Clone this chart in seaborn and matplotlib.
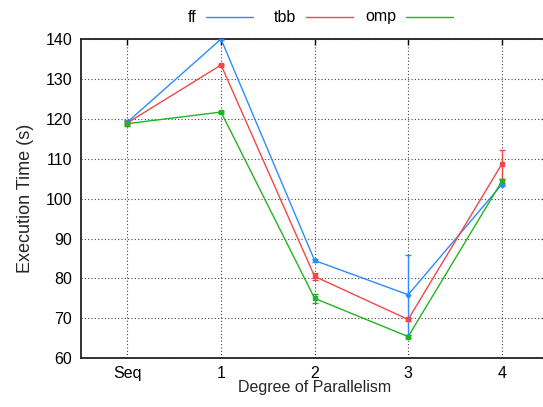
import matplotlib
matplotlib.use("Agg")
import matplotlib.pyplot as plt
from matplotlib.lines import Line2D
import seaborn as sns
import pandas as pd

# Execution time per degree of parallelism
categories = ["Seq", "1", "2", "3", "4"]
ff_time = [119.2, 140.0, 84.5, 75.9, 103.5]
ff_err = [0.4, 0.3, 0.3, 10.0, 0.3]
tbb_time = [119.0, 133.5, 80.5, 69.7, 108.6]
tbb_err = [0.4, 0.3, 0.9, 0.3, 3.6]
omp_time = [118.8, 121.7, 75.0, 65.4, 104.3]
omp_err = [0.6, 0.3, 1.2, 0.3, 0.7]
impls = ["ff", "tbb", "omp"]

series = {"ff": (ff_time, ff_err), "tbb": (tbb_time, tbb_err), "omp": (omp_time, omp_err)}
colors = {"ff": "#2b8cff", "tbb": "#f04848", "omp": "#22b422"}
markers = {"ff": "P", "tbb": "s", "omp": "s"}

rows = []
for name, (vals, errs) in series.items():
    for i, (v, e) in enumerate(zip(vals, errs)):
        rows.append({"pos": i, "cat": categories[i], "time": v, "err": e, "impl": name})
df = pd.DataFrame(rows)

sns.set_theme(style="white")
plt.rcParams["font.family"] = ["Liberation Sans", "DejaVu Sans"]

W, H = 543, 407
fig = plt.figure(figsize=(W / 100, H / 100), dpi=100)
ax = fig.add_axes([0.1486, 0.12, 0.8615, 0.784])

sns.lineplot(data=df, x="pos", y="time", hue="impl", palette=colors,
             hue_order=impls, ax=ax, linewidth=1.0,
             errorbar=None, sort=False, legend=False)

for name in impls:
    sub = df[df["impl"] == name]
    ax.errorbar(sub["pos"], sub["time"], yerr=sub["err"], fmt=markers[name],
                color=colors[name], ms=3.0, elinewidth=1.0, capsize=2.5,
                capthick=1.0, linestyle="none", zorder=4)

ax.set_xlim(-0.5, 4.5)
ax.set_ylim(60, 140)
ax.set_xticks(range(len(categories)))
ax.set_xticklabels(categories)
ax.set_yticks(range(60, 141, 10))
ax.grid(True, linestyle=(0, (1, 2)), color="#444444", linewidth=0.8)
ax.tick_params(direction="in", length=4, width=1, colors="black",
               labelsize=11.5, top=True, right=True, pad=6)
for s in ax.spines.values():
    s.set_color("#222222")
    s.set_linewidth(1.3)

ax.set_xlabel("Degree of Parallelism", fontsize=11.5, labelpad=-1)
ax.set_ylabel("Execution Time (s)", fontsize=13, labelpad=8)

# Key above the plot: label followed by a line sample
key_y = 1 - 17 / H
for k, name in enumerate(impls):
    x0 = 206 + 100 * k
    fig.text((x0 - 10) / W, key_y, name, ha="right", va="center",
             fontsize=11.5, color="black")
    fig.add_artist(Line2D([x0 / W, (x0 + 47) / W], [key_y, key_y],
                          color=colors[name], linewidth=1.0,
                          transform=fig.transFigure))

fig.savefig("out.png", dpi=100)
